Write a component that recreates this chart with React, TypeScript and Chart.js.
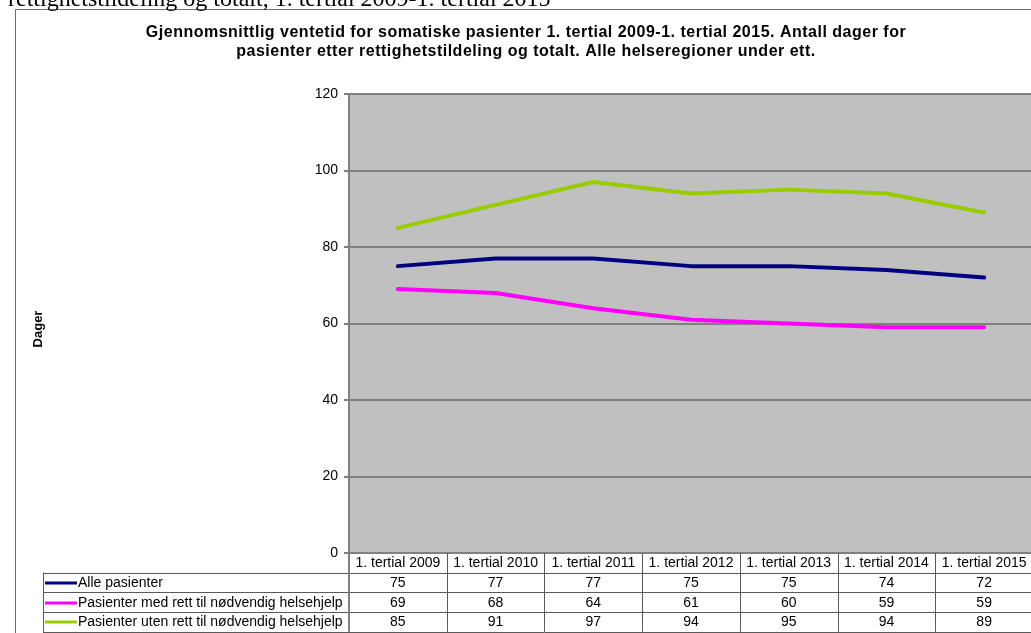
import { useEffect, useRef } from 'react';
import { Chart, registerables } from 'chart.js';

Chart.register(...registerables);

const categories = [
  '1. tertial 2009',
  '1. tertial 2010',
  '1. tertial 2011',
  '1. tertial 2012',
  '1. tertial 2013',
  '1. tertial 2014',
  '1. tertial 2015',
];
const allePasienter = [75, 77, 77, 75, 75, 74, 72];
const medRett = [69, 68, 64, 61, 60, 59, 59];
const utenRett = [85, 91, 97, 94, 95, 94, 89];
const seriesNames = [
  'Alle pasienter',
  'Pasienter med rett til nødvendig helsehjelp',
  'Pasienter uten rett til nødvendig helsehjelp',
];
const seriesColors = ['#000080', '#FF00FF', '#99CC00'];
const titleLines = [
  'Gjennomsnittlig ventetid for somatiske pasienter 1. tertial 2009-1. tertial 2015. Antall dager for',
  'pasienter etter rettighetstildeling og totalt. Alle helseregioner under ett.',
];
const yAxisTitle = 'Dager';
const pageText = 'rettighetstildeling og totalt, 1. tertial 2009-1. tertial 2015';

const W = 1045;
const H = 645;
const FONT = '"Liberation Sans", Arial, sans-serif';

export default function App() {
  const ref = useRef<HTMLCanvasElement>(null);

  useEffect(() => {
    const canvas = ref.current!;
    const seriesData = [allePasienter, medRett, utenRett];

    const decoPlugin = {
      id: 'deco',
      beforeDraw(chart: any) {
        const { ctx, chartArea } = chart;
        ctx.save();
        // outer frame
        ctx.strokeStyle = '#6e6e6e';
        ctx.lineWidth = 1;
        ctx.strokeRect(15.5, 9.5, W + 20, H + 20);
        // plot background
        ctx.fillStyle = '#C0C0C0';
        ctx.fillRect(chartArea.left, chartArea.top, chartArea.right - chartArea.left, chartArea.bottom - chartArea.top);
        // title
        ctx.fillStyle = '#000';
        ctx.font = `bold 16px ${FONT}`;
        (ctx as any).letterSpacing = '0.5px';
        ctx.textAlign = 'center';
        ctx.textBaseline = 'middle';
        ctx.fillText(titleLines[0], 526, 33);
        ctx.fillText(titleLines[1], 526, 52);
        (ctx as any).letterSpacing = '0px';
        // y axis title
        ctx.translate(38, 329);
        ctx.rotate(-Math.PI / 2);
        ctx.font = `bold 13px ${FONT}`;
        ctx.fillText(yAxisTitle, 0, 0);
        ctx.restore();
      },
      afterDraw(chart: any) {
        const { ctx, chartArea, scales } = chart;
        const x = scales.x;
        const left = chartArea.left;
        const right = chartArea.right;
        const colW = (right - left) / categories.length;
        const top = chartArea.bottom;
        const rowH = 19.7;
        const legendLeft = 43;
        ctx.save();
        ctx.strokeStyle = '#5a5a5a';
        ctx.lineWidth = 1;
        const rows = seriesNames.length + 1;
        for (let r = 1; r <= rows; r++) {
          const yy = Math.round(top + r * rowH) + 0.5;
          ctx.beginPath();
          ctx.moveTo(legendLeft, yy);
          ctx.lineTo(right + 20, yy);
          ctx.stroke();
        }
        for (let c = 1; c <= categories.length; c++) {
          const xx = Math.round(left + c * colW) + 0.5;
          ctx.beginPath();
          ctx.moveTo(xx, top);
          ctx.lineTo(xx, top + rows * rowH);
          ctx.stroke();
        }
        ctx.beginPath();
        ctx.moveTo(legendLeft + 0.5, top + rowH);
        ctx.lineTo(legendLeft + 0.5, top + rows * rowH);
        ctx.stroke();
        ctx.strokeStyle = '#808080';
        ctx.lineWidth = 2;
        ctx.beginPath();
        ctx.moveTo(left, top);
        ctx.lineTo(left, top + rows * rowH);
        ctx.stroke();

        ctx.fillStyle = '#000';
        ctx.font = `14px ${FONT}`;
        ctx.textBaseline = 'middle';
        ctx.textAlign = 'center';
        categories.forEach((c, i) => {
          ctx.fillText(c, x.getPixelForValue(i), top + rowH / 2 + 0.5);
        });
        seriesData.forEach((arr, s) => {
          const cy = top + (s + 1) * rowH + rowH / 2 + 0.5;
          arr.forEach((v, i) => {
            ctx.textAlign = 'center';
            ctx.fillText(String(v), x.getPixelForValue(i), cy);
          });
          ctx.strokeStyle = seriesColors[s];
          ctx.lineWidth = 3;
          ctx.beginPath();
          ctx.moveTo(45, Math.round(cy));
          ctx.lineTo(77, Math.round(cy));
          ctx.stroke();
          ctx.textAlign = 'left';
          ctx.fillText(seriesNames[s], 78, cy);
        });
        ctx.restore();
      },
    };

    const chart = new Chart(canvas, {
      type: 'line',
      data: {
        labels: categories,
        datasets: seriesData.map((d, i) => ({
          label: seriesNames[i],
          data: d,
          borderColor: seriesColors[i],
          backgroundColor: seriesColors[i],
          borderWidth: 4,
          pointRadius: 0,
          tension: 0,
          borderCapStyle: 'round',
          borderJoinStyle: 'round',
          fill: false,
        })),
      },
      options: {
        responsive: false,
        animation: false,
        devicePixelRatio: 1,
        layout: { padding: { top: 94, bottom: H - 553, left: 0, right: W - 1033 } },
        plugins: {
          legend: { display: false },
          title: { display: false },
          tooltip: { enabled: false },
        },
        scales: {
          x: { type: 'category', display: false, offset: true },
          y: {
            min: 0,
            max: 120,
            ticks: { stepSize: 20, padding: 6, color: '#000', font: { family: FONT, size: 14 } },
            grid: { color: '#808080', lineWidth: 2, tickLength: 5, drawTicks: true },
            border: { color: '#808080', width: 2 },
            afterFit: (s: any) => {
              s.width = 349;
            },
          },
        },
      } as any,
      plugins: [decoPlugin],
    });
    return () => chart.destroy();
  }, []);

  return (
    <div style={{ position: 'fixed', left: 0, top: 0, width: 1031, height: 633, overflow: 'hidden', background: '#fff' }}>
      <canvas ref={ref} width={W} height={H} style={{ position: 'absolute', left: 0, top: 0, display: 'block' }} />
      <div
        style={{
          position: 'absolute',
          left: 8,
          top: -14,
          fontFamily: '"Liberation Serif", "Times New Roman", serif',
          fontSize: 24,
          lineHeight: '24px',
          whiteSpace: 'nowrap',
          color: '#000',
        }}
      >
        {pageText}
      </div>
    </div>
  );
}
